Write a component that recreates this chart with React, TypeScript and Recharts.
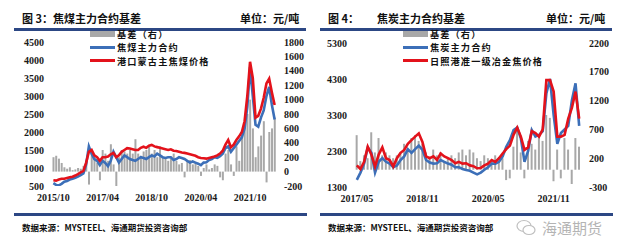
import { ComposedChart, Bar, Line, XAxis, YAxis } from "recharts";

// month labels, yyyy/mm, one per point
function monthLabels(year: number, month: number, count: number): string[] {
  const out: string[] = [];
  for (let i = 0; i < count; i++) {
    const t = year * 12 + (month - 1) + i;
    out.push(`${Math.floor(t / 12)}/${String((t % 12) + 1).padStart(2, "0")}`);
  }
  return out;
}

// 图3 焦煤 2015/10 - 2022/07
const coalDates = monthLabels(2015, 10, 82);
const coalFutures = [
  580, 530, 520, 560, 620, 640, 680, 700, 730, 760,
  800, 850, 1100, 1600, 1400, 1250, 1200, 1080, 1200, 1140,
  1050, 1200, 1450, 1300, 1150, 1250, 1350, 1300, 1250, 1220,
  1200, 1250, 1300, 1280, 1250, 1300, 1350, 1320, 1400, 1350,
  1300, 1280, 1300, 1300, 1220, 1250, 1300, 1280, 1250, 1200,
  1150, 1180, 1150, 1120, 1080, 1150, 1160, 1220, 1250, 1300,
  1280, 1330, 1400, 1550, 1600, 1450, 1550, 1650, 1750, 1850,
  2100, 2700, 3800, 3000, 2200, 2150, 2400, 2600, 3000, 3250,
  2750, 2350,
];
const coalSpot = [
  660, 650, 680, 700, 700, 720, 740, 760, 790, 830,
  880, 920, 1150, 1450, 1500, 1350, 1300, 1200, 1300, 1300,
  1320, 1380, 1420, 1300, 1350, 1450, 1500, 1550, 1540, 1520,
  1500, 1500, 1560, 1590, 1560, 1620, 1640, 1600, 1580, 1560,
  1540, 1520, 1500, 1520, 1480, 1470, 1450, 1430, 1420, 1400,
  1380, 1360, 1340, 1300, 1280, 1270, 1260, 1280, 1300, 1320,
  1350, 1400, 1480, 1650, 1780, 1580, 1650, 1780, 1880, 2000,
  2300, 3000, 3950, 3500, 2400, 2450, 2650, 2950, 3350, 3480,
  3100, 2750,
];
const coalBasis = [
  200, 220, 180, 120, 60, 40, 60, 20, 30, 50,
  40, 80, 150, -180, 250, 200, 120, -120, 300, 250,
  150, 380, 100, -200, 200, 300, 280, 250, 300, 250,
  450, 250, 220, 280, 300, 350, 250, 300, 200, 350,
  200, 180, 150, 200, 250, 150, 100, 120, -80, 150,
  160, 100, 120, 80, -60, 50, 100, 30, 50, 100,
  80, -80, -120, 250, 300, 100, -60, 350, 150, 500,
  650, 800, 1000, 600, 200, 350, 500, 700, -150, 550,
  600, 750,
];

// 图4 焦炭 2017/05 - 2022/06
const cokeDates = monthLabels(2017, 5, 62);
const cokeFutures = [
  1500, 1700, 1950, 2400, 2250, 1700, 2000, 2100, 2000, 1950,
  1850, 1900, 2050, 2150, 2350, 2250, 2350, 2450, 2330, 2050,
  1980, 1950, 1960, 2050, 2000, 1950, 1920, 1850, 1850, 1800,
  1770, 1750, 1700, 1650, 1700, 1780, 1850, 1950, 1950, 2000,
  2150, 2420, 2600, 2880, 2950, 2650, 2000, 2300, 2880, 2700,
  2750, 2850, 3900, 4300, 3300, 2500, 2800, 2900, 3000, 3700,
  4180, 3000,
];
const cokeSpot = [
  1900, 1800, 2000, 2420, 2200, 1870, 2200, 2400, 2100, 2050,
  1870, 2100, 2250, 2330, 2500, 2600, 2700, 2790, 2550, 2150,
  2100, 2150, 2050, 2230, 2150, 2100, 2050, 1960, 2000, 1950,
  1960, 1900, 1880, 1820, 1830, 1900, 1950, 2050, 2000, 2100,
  2230, 2350, 2450, 2750, 2950, 2700, 2330, 2400, 2850, 2800,
  2700, 2900, 4270, 4270, 3950, 2700, 2700, 2750, 3200, 3500,
  3950, 3200,
];
const cokeBasis = [
  600, 150, 250, 200, 650, 300, 550, 250, 300, 250,
  200, 250, 300, 450, 350, 550, 600, 500, 450, 300,
  200, 350, 250, 300, 150, 200, 250, 200, 300, 350,
  250, 350, 300, 200, 150, 250, 200, 150, 250, 150,
  200, -180, -150, 400, 750, 300, -150, 500, 450, 350,
  600, 500, 950, 900, -200, 350, -150, 550, 350, -250,
  550, 400,
];

const coalLeftTicks = [500, 1000, 1500, 2000, 2500, 3000, 3500, 4000, 4500];
const coalRightTicks = [-200, 0, 200, 400, 600, 800, 1000, 1200, 1400, 1600, 1800];
const cokeLeftTicks = [1300, 2300, 3300, 4300, 5300];
const cokeRightTicks = [-300, 200, 700, 1200, 1700, 2200];

const NAVY = "#2c4784";
const GREY = "#a8a8a8";
const BLUE = "#3c6fb8";
const RED = "#e3121b";
const CJK = "'Noto Sans CJK SC', sans-serif";
const tickStyle = {
  fontSize: 10,
  fontFamily: "'Liberation Serif', serif",
  fontWeight: 700,
  fill: "#1a1a1a",
};

type PanelProps = {
  left: number;
  figNo: string;
  title: string;
  titleX: number;
  dates: string[];
  futures: number[];
  spot: number[];
  basis: number[];
  futuresName: string;
  spotName: string;
  leftDomain: [number, number];
  leftTicks: number[];
  rightDomain: [number, number];
  rightTicks: number[];
  plotTop: number;
  yAxisLeftW: number;
  marginRight: number;
  legendX: number;
};

function LegendRow({ top, left, color, h, label }: { top: number; left: number; color: string; h: number; label: string }) {
  return (
    <div style={{ position: "absolute", top, left, display: "flex", alignItems: "center", height: 10 }}>
      <span style={{ width: 25, height: h, background: color, display: "inline-block" }} />
      <span style={{ marginLeft: 2, fontSize: 9.2, letterSpacing: 1.1, fontWeight: 700, fontFamily: CJK, color: "#111", whiteSpace: "nowrap", lineHeight: "10px" }}>
        {label}
      </span>
    </div>
  );
}

function Panel(p: PanelProps) {
  const data = p.dates.map((d, i) => ({
    date: d,
    futures: p.futures[i],
    spot: p.spot[i],
    basis: p.basis[i],
  }));
  const xAxisH = 210 - (p.plotTop + 144);

  return (
    <div style={{ position: "absolute", left: p.left, top: 0, width: 310, height: 248 }}>
      {/* title */}
      <div style={{ position: "absolute", top: 10, left: 12, fontFamily: CJK, fontWeight: 700, fontSize: 11, color: "#111", whiteSpace: "nowrap" }}>
        图 {p.figNo}：
      </div>
      <div style={{ position: "absolute", top: 10, left: p.titleX, fontFamily: CJK, fontWeight: 700, fontSize: 11, color: "#111", whiteSpace: "nowrap" }}>
        {p.title}
      </div>
      <div style={{ position: "absolute", top: 10, left: 230, fontFamily: CJK, fontWeight: 700, fontSize: 11, color: "#111", whiteSpace: "nowrap" }}>
        单位：元/吨
      </div>
      <div style={{ position: "absolute", top: 28, left: 4, width: 292, height: 3, background: NAVY }} />

      <div style={{ position: "absolute", top: 0, left: 0 }}>
        <ComposedChart
          width={310}
          height={210}
          data={data}
          margin={{ top: p.plotTop, right: p.marginRight, bottom: 0, left: 0 }}
          barCategoryGap="18%"
          barGap={0}
        >
          <XAxis
            dataKey="date"
            interval={17}
            tickLine={false}
            axisLine={false}
            height={xAxisH}
            tick={tickStyle}
          />
          <YAxis
            yAxisId="left"
            orientation="left"
            width={p.yAxisLeftW}
            domain={p.leftDomain}
            ticks={p.leftTicks}
            interval={0}
            allowDataOverflow
            tickLine={false}
            axisLine={false}
            tick={tickStyle}
          />
          <YAxis
            yAxisId="right"
            orientation="right"
            width={40}
            domain={p.rightDomain}
            ticks={p.rightTicks}
            interval={0}
            allowDataOverflow
            tickLine={false}
            axisLine={false}
            tick={tickStyle}
          />
          <Bar yAxisId="right" dataKey="basis" fill={GREY} isAnimationActive={false} />
          <Line yAxisId="left" type="linear" dataKey="futures" stroke={BLUE} strokeWidth={2.6} dot={false} isAnimationActive={false} />
          <Line yAxisId="left" type="linear" dataKey="spot" stroke={RED} strokeWidth={2.6} dot={false} isAnimationActive={false} />
        </ComposedChart>
      </div>

      {/* legend */}
      <LegendRow top={28.5} left={p.legendX} color={GREY} h={6} label="基差（右）" />
      <LegendRow top={42} left={p.legendX} color={BLUE} h={3} label={p.futuresName} />
      <LegendRow top={55.5} left={p.legendX} color={RED} h={3} label={p.spotName} />

      {/* footer */}
      <div style={{ position: "absolute", top: 213, left: 4, width: 293, height: 3, background: NAVY }} />
      <div style={{ position: "absolute", top: 221, left: 12, fontFamily: CJK, fontWeight: 700, fontSize: 8.5, color: "#111", whiteSpace: "nowrap" }}>
        数据来源：MYSTEEL、海通期货投资咨询部
      </div>
    </div>
  );
}

export default function App() {
  return (
    <div style={{ position: "absolute", left: 0, top: 0, width: 620, height: 248, background: "#fff", overflow: "hidden" }}>
      <Panel
        left={10}
        figNo="3"
        title="焦煤主力合约基差"
        titleX={43}
        dates={coalDates}
        futures={coalFutures}
        spot={coalSpot}
        basis={coalBasis}
        futuresName="焦煤主力合约"
        spotName="港口蒙古主焦煤价格"
        leftDomain={[500, 4500]}
        leftTicks={coalLeftTicks}
        rightDomain={[-200, 1800]}
        rightTicks={coalRightTicks}
        plotTop={42}
        yAxisLeftW={42}
        marginRight={4}
        legendX={80}
      />
      <Panel
        left={316}
        figNo="4"
        title="焦炭主力合约基差"
        titleX={61}
        dates={cokeDates}
        futures={cokeFutures}
        spot={cokeSpot}
        basis={cokeBasis}
        futuresName="焦炭主力合约"
        spotName="日照港准一级冶金焦价格"
        leftDomain={[1300, 5300]}
        leftTicks={cokeLeftTicks}
        rightDomain={[-300, 2200]}
        rightTicks={cokeRightTicks}
        plotTop={43}
        yAxisLeftW={39}
        marginRight={5}
        legendX={87}
      />
      {/* watermark */}
      <div style={{ position: "absolute", left: 516, top: 217, display: "flex", alignItems: "center", opacity: 0.75 }}>
        <svg width={20} height={18} viewBox="0 0 20 18">
          <ellipse cx={8} cy={7} rx={7} ry={5.5} fill="none" stroke="#aaa" strokeWidth={1.2} />
          <ellipse cx={13} cy={11} rx={6} ry={4.5} fill="#fff" stroke="#aaa" strokeWidth={1.2} />
        </svg>
        <span style={{ marginLeft: 6, fontFamily: CJK, fontSize: 15, color: "#9c9c9c", whiteSpace: "nowrap" }}>海通期货</span>
      </div>
    </div>
  );
}
